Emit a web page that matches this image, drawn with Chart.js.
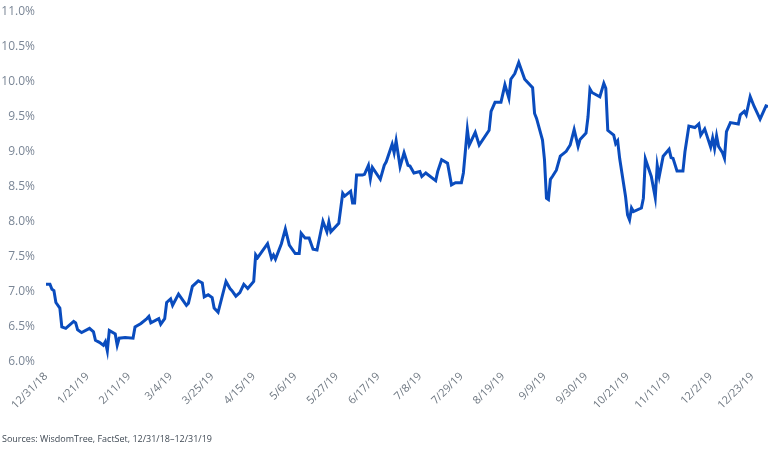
<!DOCTYPE html>
<html>
<head>
<meta charset="utf-8">
<script src="https://cdn.jsdelivr.net/npm/chart.js@4.4.1/dist/chart.umd.min.js"></script>
<style>
  html, body { margin: 0; padding: 0; background: #fff; }
  #wrap { position: relative; width: 778px; height: 451px; }
  #fuente {
    position: absolute; left: 2px; top: 432px;
    font: 9px "Open Sans", sans-serif; color: #3f4954;
  }
</style>
</head>
<body>
<div id="wrap">
  <canvas id="grafica" width="778" height="451"></canvas>
  <div id="fuente">Sources: WisdomTree, FactSet, 12/31/18–12/31/19</div>
</div>
<script>
// days since 12/31/18 and yield (%)
const dias = [
  0, 2, 3, 4, 5, 7, 8, 10, 14, 15, 16, 18, 22, 24, 25, 27, 29, 30, 31, 32,
  35, 36, 37, 40, 44, 45, 48, 51, 52, 53, 57, 58, 60, 61, 63, 64, 67, 71, 72, 74,
  77, 79, 80, 82, 84, 85, 87, 91, 93, 94, 96, 98, 100, 102, 105, 106, 107, 112, 114, 115,
  116, 119, 121, 123, 126, 128, 129, 131, 133, 135, 137, 140, 142, 143, 144, 148, 150, 151, 154, 155,
  156, 157, 160, 161, 163, 164, 165, 169, 171, 172, 175, 176, 177, 179, 181, 183, 184, 186, 189, 190,
  192, 197, 198, 200, 203, 205, 207, 210, 211, 213, 214, 217, 219, 224, 225, 227, 230, 232, 234, 235,
  237, 239, 242, 246, 247, 248, 251, 252, 253, 254, 255, 256, 258, 260, 263, 265, 267, 269, 270, 273,
  274, 275, 276, 280, 282, 283, 284, 287, 288, 289, 290, 293, 294, 295, 296, 297, 301, 302, 303, 306,
  308, 309, 310, 312, 315, 316, 317, 319, 322, 323, 325, 328, 330, 331, 333, 336, 337, 338, 339, 340,
  342, 343, 344, 346, 350, 351, 353, 354, 356, 358, 359, 361, 364, 365
]
const rendimiento = [
  7.11, 7.11, 7.04, 7.02, 6.85, 6.77, 6.50, 6.48, 6.58, 6.56, 6.46, 6.42, 6.48, 6.43, 6.31, 6.28, 6.24, 6.29, 6.16, 6.45,
  6.40, 6.24, 6.34, 6.35, 6.34, 6.50, 6.55, 6.62, 6.65, 6.56, 6.62, 6.54, 6.62, 6.85, 6.90, 6.81, 6.97, 6.81, 6.84, 7.08,
  7.16, 7.13, 6.93, 6.96, 6.92, 6.77, 6.71, 7.15, 7.05, 7.02, 6.94, 6.99, 7.11, 7.05, 7.15, 7.53, 7.49, 7.69, 7.48, 7.53,
  7.47, 7.69, 7.90, 7.67, 7.55, 7.55, 7.84, 7.77, 7.77, 7.61, 7.60, 8.01, 7.86, 8.00, 7.86, 7.98, 8.41, 8.37, 8.44, 8.27,
  8.27, 8.67, 8.67, 8.68, 8.81, 8.62, 8.78, 8.61, 8.81, 8.86, 9.11, 8.99, 9.16, 8.79, 8.99, 8.81, 8.80, 8.70, 8.72, 8.65,
  8.70, 8.59, 8.72, 8.89, 8.84, 8.53, 8.56, 8.56, 8.70, 9.32, 9.10, 9.28, 9.10, 9.31, 9.58, 9.71, 9.71, 9.96, 9.77, 10.04,
  10.12, 10.28, 10.04, 9.92, 9.55, 9.48, 9.17, 8.89, 8.34, 8.32, 8.61, 8.65, 8.74, 8.94, 9.01, 9.10, 9.32, 9.08, 9.18, 9.27,
  9.50, 9.90, 9.85, 9.79, 9.98, 9.91, 9.31, 9.24, 9.12, 9.16, 8.91, 8.36, 8.10, 8.03, 8.20, 8.15, 8.20, 8.34, 8.90, 8.65,
  8.35, 8.81, 8.65, 8.94, 9.04, 8.92, 8.91, 8.73, 8.73, 9.00, 9.37, 9.35, 9.40, 9.24, 9.33, 9.07, 9.20, 9.05, 9.23, 9.08,
  8.99, 8.91, 9.29, 9.42, 9.40, 9.53, 9.58, 9.53, 9.79, 9.65, 9.59, 9.47, 9.66, 9.65
]
const etiquetas = [
  "12/31/18", "1/21/19", "2/11/19", "3/4/19", "3/25/19", "4/15/19", "5/6/19", "5/27/19", "6/17/19",
  "7/8/19", "7/29/19", "8/19/19", "9/9/19", "9/30/19", "10/21/19", "11/11/19", "12/2/19", "12/23/19"
]
const pasoEtiqueta = 21

const puntos = dias.map((d, i) => ({ x: d, y: rendimiento[i] }))

new Chart(document.getElementById("grafica"), {
  type: "line",
  data: {
    datasets: [{
      data: puntos,
      borderColor: "#0a4cbe",
      borderWidth: 3,
      pointRadius: 0,
      tension: 0,
      fill: false
    }]
  },
  options: {
    responsive: false,
    animation: false,
    layout: { padding: { left: 0, right: 10, top: 0, bottom: 0 } },
    plugins: { legend: { display: false }, tooltip: { enabled: false } },
    scales: {
      x: {
        type: "linear",
        min: 0,
        max: 365,
        grid: { display: false, drawTicks: false },
        border: { display: false },
        afterFit: s => { s.height = 89 },
        afterBuildTicks: s => {
          s.ticks = etiquetas.map((e, i) => ({ value: i * pasoEtiqueta }))
        },
        ticks: {
          autoSkip: false,
          minRotation: 45,
          maxRotation: 45,
          padding: 8,
          color: "#6e7781",
          font: { family: "Open Sans", size: 11 },
          callback: (v, i) => etiquetas[i]
        }
      },
      y: {
        min: 6,
        max: 11,
        grid: { display: false, drawTicks: false },
        border: { display: false },
        afterFit: s => { s.width = 46; s.paddingTop = 12; s.paddingBottom = 0 },
        ticks: {
          stepSize: 0.5,
          padding: 11,
          color: "#7a8696",
          font: { family: "Open Sans", size: 12 },
          callback: v => v.toFixed(1) + "%"
        }
      }
    }
  }
})
</script>
</body>
</html>
